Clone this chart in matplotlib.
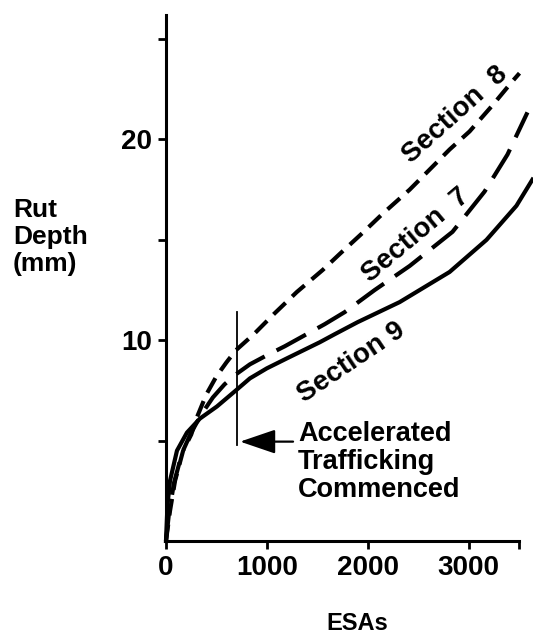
import numpy as np
import matplotlib
matplotlib.use("Agg")
import matplotlib.pyplot as plt

plt.rcParams['font.family'] = ['Liberation Sans', 'DejaVu Sans']

# Rut depth (mm) against ESAs
sec8_esa = [0, 40, 90, 170, 250, 310, 400, 500, 600, 693, 871, 1069, 1297, 1554,
            1723, 1950, 2148, 2416, 2614, 2812, 3010, 3237, 3435, 3505]
sec8_rut = [0, 1.5, 3.0, 4.5, 5.3, 6.2, 7.3, 8.2, 8.9, 9.5, 10.3, 11.3, 12.4, 13.5,
            14.3, 15.35, 16.3, 17.5, 18.5, 19.5, 20.4, 21.7, 22.9, 23.3]

sec7_esa = [0, 30, 80, 160, 250, 350, 465, 580, 693, 832, 1000, 1178, 1574, 1772,
            2069, 2416, 2841, 3158, 3386, 3584]
sec7_rut = [0, 1.4, 2.9, 4.4, 5.4, 6.3, 7.15, 7.8, 8.3, 8.8, 9.25, 9.7, 10.8, 11.4,
            12.5, 13.7, 15.4, 17.4, 19.25, 21.35]

sec9_esa = [0, 15, 40, 109, 208, 337, 505, 693, 832, 1000, 1200, 1525, 1673, 1900,
            2317, 2812, 3178, 3475, 3633]
sec9_rut = [0, 1.8, 3.0, 4.5, 5.4, 6.1, 6.7, 7.5, 8.1, 8.6, 9.1, 9.9, 10.3, 10.9,
            11.9, 13.4, 15.0, 16.7, 18.0]

x_ticks = [0, 1000, 2000, 3000, 3500]
x_labels = ['0', '1000', '2000', '3000', '']
y_ticks = [5, 10, 15, 20, 25]
y_labels = ['', '10', '', '20', '']

start_esa = 700
marker_rut = (4.8, 11.4)

fig = plt.figure(figsize=(5.33, 6.41), dpi=100)
ax = fig.add_axes([0.3114, 0.156, 0.6623, 0.8206])
ax.set_xlim(0, 3500)
ax.set_ylim(0, 26.2)

lw = 3.0
ax.plot(sec8_esa, sec8_rut, color='black', lw=lw, linestyle=(0, (4, 2.2)),
        clip_on=False)
ax.plot(sec7_esa, sec7_rut, color='black', lw=lw, linestyle=(0, (8, 3.2)),
        clip_on=False)
ax.plot(sec9_esa, sec9_rut, color='black', lw=lw, clip_on=False)

# start of accelerated trafficking
ax.plot([start_esa, start_esa], marker_rut, color='black', lw=1.3)
ax.annotate('', xy=(start_esa + 35, 4.95), xytext=(1260, 4.95),
            arrowprops=dict(arrowstyle='-|>,head_length=2.2,head_width=0.75',
                            color='black', lw=1.6, shrinkA=0, shrinkB=0))
ax.text(1310, 3.95, 'Accelerated\nTrafficking\nCommenced', fontsize=19.5,
        fontweight='bold', ha='left', va='center', linespacing=1.1)

ax.text(2871, 21.25, 'Section  8', fontsize=20, fontweight='bold', rotation=42,
        ha='center', va='center', rotation_mode='anchor')
ax.text(2475, 15.2, 'Section  7', fontsize=20, fontweight='bold', rotation=40,
        ha='center', va='center', rotation_mode='anchor')
ax.text(1841, 8.9, 'Section 9', fontsize=20, fontweight='bold', rotation=34,
        ha='center', va='center', rotation_mode='anchor')

for side in ['top', 'right']:
    ax.spines[side].set_visible(False)
for side in ['left', 'bottom']:
    ax.spines[side].set_linewidth(2.2)

ax.set_xticks(x_ticks)
ax.set_xticklabels(x_labels, fontweight='bold')
ax.set_yticks(y_ticks)
ax.set_yticklabels(y_labels, fontweight='bold')
ax.tick_params(axis='both', direction='out', length=6, width=2,
               labelsize=20, pad=4)

fig.text(0.024, 0.630, 'Rut\nDepth\n(mm)', fontsize=19, fontweight='bold',
         ha='left', va='center', linespacing=1.15)
fig.text(0.67, 0.027, 'ESAs', fontsize=17, fontweight='bold',
         ha='center', va='center')

fig.savefig('out.png', dpi=100)
